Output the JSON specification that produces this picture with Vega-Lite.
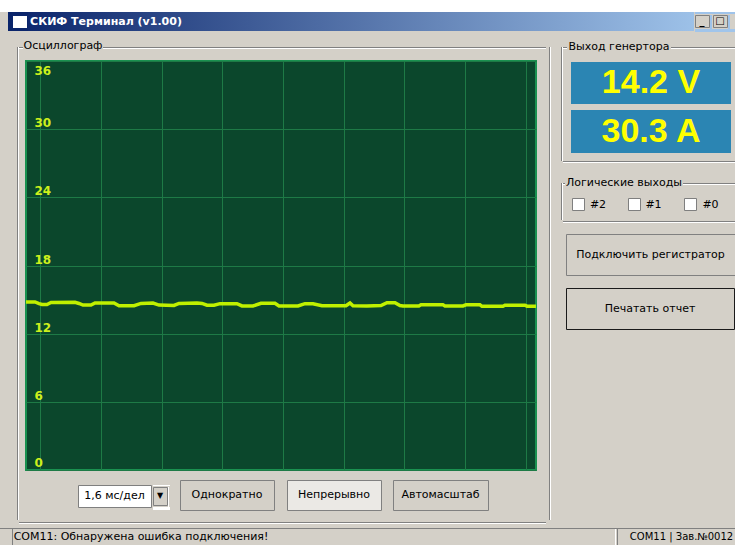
{
"$schema": "https://vega.github.io/schema/vega-lite/v6.json",
"padding": 0,
"background": "#d4d0c8",
"spacing": 0,
"datasets": {"one": [{}]},
"config": {
  "view": {"stroke": null},
  "concat": {"spacing": 0},
  "text": {"font": "DejaVu Sans", "fontSize": 11, "color": "#000000"}
},
"vconcat": [
  {"width":735,"height":12,"data":{"name":"one"},"mark":{"type":"rect","color":"#ffffff"}},
  {"hconcat": [
    {"width":8,"height":19,"data":{"name":"one"},"mark":{"type":"rect","color":"#d4d0c8"}},
    {"width":4,"height":19,"data":{"name":"one"},"mark":{"type":"rect","color":"#0a246a"}},
    {"vconcat":[
      {"width":16,"height":4,"data":{"name":"one"},"mark":{"type":"rect","color":"#0b256b"}},
      {"hconcat":[
        {"width":1,"height":12,"data":{"name":"one"},"mark":{"type":"rect","color":"#0b256b"}},
        {"width":14,"height":12,"data":{"name":"one"},"mark":{"type":"rect","color":"#ffffff"}},
        {"width":1,"height":12,"data":{"name":"one"},"mark":{"type":"rect","color":"#0b256b"}}
      ]},
      {"width":16,"height":3,"data":{"name":"one"},"mark":{"type":"rect","color":"#0b256b"}}
    ]},
    {"width":156,"height":19,"data":{"values":[{"label":"СКИФ Терминал (v1.00)"}]},"layer":[
      {"mark":{"type":"rect","color":{"gradient":"linear","x1":0,"y1":0,"x2":1,"y2":0,"stops":[{"offset":0,"color":"#0e286e"},{"offset":1,"color":"#304c8a"}]}}},
      {"mark":{"type":"text","color":"#ffffff","fontWeight":"bold","fontSize":11},"encoding":{"text":{"field":"label","type":"nominal"}}}
    ]},
    {"width":510,"height":19,"data":{"name":"one"},"mark":{"type":"rect","color":{"gradient":"linear","x1":0,"y1":0,"x2":1,"y2":0,"stops":[{"offset":0,"color":"#304c8a"},{"offset":1,"color":"#9dc1e8"}]}}},
    {"vconcat":[
      {"width":41,"height":2,"data":{"name":"one"},"mark":{"type":"rect","color":"#9fc3ea"}},
      {"hconcat":[
        {"width":14,"height":12,"view":{"fill":"#d4d0c8","stroke":"#808080"},"data":{"values":[{"label":"_"}]},"mark":{"type":"text","fontWeight":"bold","fontSize":10},"encoding":{"text":{"field":"label","type":"nominal"}}},
        {"width":2,"height":14,"data":{"name":"one"},"mark":{"type":"rect","color":"#9fc3ea"}},
        {"width":14,"height":12,"view":{"fill":"#d4d0c8","stroke":"#808080"},"data":{"values":[{"label":"□"}]},"mark":{"type":"text","fontSize":10},"encoding":{"text":{"field":"label","type":"nominal"}}},
        {"width":2,"height":14,"data":{"name":"one"},"mark":{"type":"rect","color":"#9fc3ea"}},
        {"width":5,"height":14,"data":{"name":"one"},"mark":{"type":"rect","color":"#d4d0c8"}}
      ]},
      {"width":41,"height":3,"data":{"name":"one"},"mark":{"type":"rect","color":"#a1c5eb"}}
    ]}
  ]},
  {"hconcat": [
    {"hconcat": [
      {"hconcat":[
        {"width":17,"height":489,"data":{"name":"one"},"mark":{"type":"rect","opacity":0}},
        {"vconcat":[
          {"width":2,"height":15,"data":{"name":"one"},"mark":{"type":"rect","opacity":0}},
          {"hconcat":[
            {"width":1,"height":473,"data":{"name":"one"},"mark":{"type":"rect","color":"#808080"}},
            {"width":1,"height":473,"data":{"name":"one"},"mark":{"type":"rect","color":"#ffffff"}}
          ]},
          {"width":2,"height":1,"data":{"name":"one"},"mark":{"type":"rect","opacity":0}}
        ]}
      ]},
      {"vconcat": [
        {"hconcat":[
          {"vconcat":[
            {"width":4,"height":15,"data":{"name":"one"},"mark":{"type":"rect","opacity":0}},
            {"width":4,"height":1,"data":{"name":"one"},"mark":{"type":"rect","color":"#808080"}},
            {"width":4,"height":1,"data":{"name":"one"},"mark":{"type":"rect","color":"#ffffff"}},
            {"width":4,"height":11,"data":{"name":"one"},"mark":{"type":"rect","opacity":0}}
          ]},
          {"width":80,"height":28,"data":{"values":[{"label":"Осциллограф"}]},"mark":{"type":"text"},"encoding":{"text":{"field":"label","type":"nominal"}}},
          {"vconcat":[
            {"width":443,"height":15,"data":{"name":"one"},"mark":{"type":"rect","opacity":0}},
            {"width":443,"height":1,"data":{"name":"one"},"mark":{"type":"rect","color":"#808080"}},
            {"width":443,"height":1,"data":{"name":"one"},"mark":{"type":"rect","color":"#ffffff"}},
            {"width":443,"height":11,"data":{"name":"one"},"mark":{"type":"rect","opacity":0}}
          ]}
        ]},
        {"hconcat":[
          {"width":6,"height":413,"data":{"name":"one"},"mark":{"type":"rect","opacity":0}},
          {"width":510,"height":409,
           "view":{"fill":"#0b472c","stroke":"#1a9150","strokeWidth":2},
           "data":{"values":[
{"t":-0.369,"v":14.79},{"t":-0.132,"v":14.79},{"t":-0.026,"v":14.65},{"t":0.053,"v":14.57},{"t":0.184,"v":14.57},{"t":0.290,"v":14.74},{"t":0.922,"v":14.76},{"t":1.027,"v":14.66},{"t":1.132,"v":14.52},{"t":1.343,"v":14.52},{"t":1.449,"v":14.70},{"t":1.949,"v":14.70},{"t":2.081,"v":14.46},{"t":2.476,"v":14.46},{"t":2.660,"v":14.66},{"t":2.976,"v":14.70},{"t":3.134,"v":14.52},{"t":3.529,"v":14.48},{"t":3.661,"v":14.66},{"t":4.135,"v":14.70},{"t":4.267,"v":14.66},{"t":4.398,"v":14.50},{"t":4.583,"v":14.50},{"t":4.741,"v":14.64},{"t":5.188,"v":14.64},{"t":5.320,"v":14.44},{"t":5.610,"v":14.44},{"t":5.821,"v":14.67},{"t":6.189,"v":14.67},{"t":6.295,"v":14.44},{"t":6.795,"v":14.44},{"t":6.979,"v":14.64},{"t":7.190,"v":14.64},{"t":7.427,"v":14.46},{"t":8.059,"v":14.46},{"t":8.165,"v":14.70},{"t":8.244,"v":14.46},{"t":8.613,"v":14.44},{"t":8.981,"v":14.48},{"t":9.139,"v":14.73},{"t":9.350,"v":14.73},{"t":9.481,"v":14.48},{"t":9.560,"v":14.44},{"t":9.980,"v":14.44},{"t":10.034,"v":14.54},{"t":10.613,"v":14.54},{"t":10.666,"v":14.44},{"t":11.141,"v":14.44},{"t":11.220,"v":14.54},{"t":11.588,"v":14.54},{"t":11.641,"v":14.41},{"t":12.194,"v":14.41},{"t":12.246,"v":14.50},{"t":12.773,"v":14.50},{"t":12.826,"v":14.42},{"t":13.063,"v":14.42}
           ]},
           "mark":{"type":"line","color":"#c0f000","strokeWidth":3.5,"clip":true},
           "encoding":{
             "x":{"field":"t","type":"quantitative","scale":{"domain":[-0.369,13.064],"nice":false,"zero":false},
                  "axis":{"values":[0,1.6,3.2,4.8,6.4,8,9.6,11.2,12.8],"grid":true,"gridColor":"#1e7a46","gridOpacity":1,"gridWidth":1,"labels":false,"ticks":false,"domain":false,"title":null,"minExtent":0,"maxExtent":0,"offset":0}},
             "y":{"field":"v","type":"quantitative","scale":{"domain":[0,36],"nice":false,"zero":false},
                  "axis":{"values":[0,6,12,18,24,30,36],"grid":true,"gridColor":"#1e7a46","gridOpacity":1,"gridWidth":1,"ticks":false,"domain":false,"title":null,"minExtent":0,"maxExtent":0,"offset":0,
                          "labelColor":"#cdf01c","labelFont":"DejaVu Sans","labelFontWeight":"bold","labelFontSize":12,"labelAlign":"left","labelBaseline":"alphabetic","labelPadding":-8,"labelOverlap":false,"labelFlush":false,
                          "labelOffset":{"condition":[{"test":"datum.value == 36","value":13.5},{"test":"datum.value == 0","value":-4}],"value":-2.5}}}
           }
          },
          {"width":7,"height":413,"data":{"name":"one"},"mark":{"type":"rect","opacity":0}}
        ]},
        {"vconcat":[
          {"width":527,"height":5,"data":{"name":"one"},"mark":{"type":"rect","opacity":0}},
          {"hconcat":[
            {"width":58,"height":32,"data":{"name":"one"},"mark":{"type":"rect","opacity":0}},
            {"vconcat":[
              {"width":92,"height":4,"data":{"name":"one"},"mark":{"type":"rect","opacity":0}},
              {"hconcat":[
                {"width":73,"height":22,"view":{"fill":"#ffffff","stroke":"#7f7f7f"},"data":{"values":[{"label":"1,6 мс/дел"}]},"mark":{"type":"text"},"encoding":{"text":{"field":"label","type":"nominal"}}},
                {"vconcat":[
                  {"width":17,"height":1,"data":{"name":"one"},"mark":{"type":"rect","color":"#ffffff"}},
                  {"hconcat":[
                    {"width":14,"height":18,"view":{"fill":"#d4d0c8","stroke":"#808080"},"data":{"values":[{"label":"▼"}]},"mark":{"type":"text","fontSize":8},"encoding":{"text":{"field":"label","type":"nominal"}}},
                    {"width":1,"height":20,"data":{"name":"one"},"mark":{"type":"rect","color":"#ffffff"}}
                  ]},
                  {"width":17,"height":3,"data":{"name":"one"},"mark":{"type":"rect","color":"#ffffff"}}
                ]}
              ]},
              {"width":92,"height":4,"data":{"name":"one"},"mark":{"type":"rect","opacity":0}}
            ]},
            {"width":9,"height":32,"data":{"name":"one"},"mark":{"type":"rect","opacity":0}},
            {"width":94,"height":30,"view":{"fill":"#d4d0c8","stroke":"#808080"},"data":{"values":[{"label":"Однократно"}]},"mark":{"type":"text"},"encoding":{"text":{"field":"label","type":"nominal"}}},
            {"width":11,"height":32,"data":{"name":"one"},"mark":{"type":"rect","opacity":0}},
            {"width":94,"height":30,"view":{"fill":"#ebe9e5","stroke":"#808080"},"data":{"values":[{"label":"Непрерывно"}]},"mark":{"type":"text"},"encoding":{"text":{"field":"label","type":"nominal"}}},
            {"width":10,"height":32,"data":{"name":"one"},"mark":{"type":"rect","opacity":0}},
            {"width":95,"height":30,"view":{"fill":"#d4d0c8","stroke":"#808080"},"data":{"values":[{"label":"Автомасштаб"}]},"mark":{"type":"text"},"encoding":{"text":{"field":"label","type":"nominal"}}},
            {"width":58,"height":32,"data":{"name":"one"},"mark":{"type":"rect","opacity":0}}
          ]},
          {"width":527,"height":8,"data":{"name":"one"},"mark":{"type":"rect","opacity":0}},
          {"width":527,"height":1,"data":{"name":"one"},"mark":{"type":"rect","color":"#808080"}},
          {"width":527,"height":1,"data":{"name":"one"},"mark":{"type":"rect","color":"#ffffff"}},
          {"width":527,"height":1,"data":{"name":"one"},"mark":{"type":"rect","opacity":0}}
        ]}
      ]},
      {"hconcat":[
        {"width":2,"height":489,"data":{"name":"one"},"mark":{"type":"rect","opacity":0}},
        {"vconcat":[
          {"width":2,"height":15,"data":{"name":"one"},"mark":{"type":"rect","opacity":0}},
          {"hconcat":[
            {"width":1,"height":473,"data":{"name":"one"},"mark":{"type":"rect","color":"#808080"}},
            {"width":1,"height":473,"data":{"name":"one"},"mark":{"type":"rect","color":"#ffffff"}}
          ]},
          {"width":2,"height":1,"data":{"name":"one"},"mark":{"type":"rect","opacity":0}}
        ]},
        {"width":2,"height":489,"data":{"name":"one"},"mark":{"type":"rect","opacity":0}}
      ]}
    ]},
    {"hconcat": [
      {"width":8,"height":493,"data":{"name":"one"},"mark":{"type":"rect","opacity":0}},
      {"vconcat":[
        {"width":2,"height":15,"data":{"name":"one"},"mark":{"type":"rect","opacity":0}},
        {"hconcat":[
          {"width":1,"height":114,"data":{"name":"one"},"mark":{"type":"rect","color":"#808080"}},
          {"width":1,"height":114,"data":{"name":"one"},"mark":{"type":"rect","color":"#ffffff"}}
        ]},
        {"width":2,"height":22,"data":{"name":"one"},"mark":{"type":"rect","opacity":0}},
        {"hconcat":[
          {"width":1,"height":37,"data":{"name":"one"},"mark":{"type":"rect","color":"#808080"}},
          {"width":1,"height":37,"data":{"name":"one"},"mark":{"type":"rect","color":"#ffffff"}}
        ]},
        {"width":2,"height":305,"data":{"name":"one"},"mark":{"type":"rect","opacity":0}}
      ]},
      {"vconcat": [
        {"hconcat":[
          {"vconcat":[
            {"width":4,"height":15,"data":{"name":"one"},"mark":{"type":"rect","opacity":0}},
            {"width":4,"height":1,"data":{"name":"one"},"mark":{"type":"rect","color":"#808080"}},
            {"width":4,"height":1,"data":{"name":"one"},"mark":{"type":"rect","color":"#ffffff"}},
            {"width":4,"height":12,"data":{"name":"one"},"mark":{"type":"rect","opacity":0}}
          ]},
          {"width":104,"height":29,"data":{"values":[{"label":"Выход генертора"}]},"mark":{"type":"text"},"encoding":{"text":{"field":"label","type":"nominal"}}},
          {"vconcat":[
            {"width":65,"height":15,"data":{"name":"one"},"mark":{"type":"rect","opacity":0}},
            {"width":65,"height":1,"data":{"name":"one"},"mark":{"type":"rect","color":"#808080"}},
            {"width":65,"height":1,"data":{"name":"one"},"mark":{"type":"rect","color":"#ffffff"}},
            {"width":65,"height":12,"data":{"name":"one"},"mark":{"type":"rect","opacity":0}}
          ]}
        ]},
        {"width":173,"height":1,"data":{"name":"one"},"mark":{"type":"rect","opacity":0}},
        {"hconcat":[
          {"width":8,"height":42,"data":{"name":"one"},"mark":{"type":"rect","opacity":0}},
          {"width":160,"height":42,"view":{"fill":"#2b85b3","stroke":null},"data":{"values":[{"label":"14.2 V"}]},"mark":{"type":"text","font":"Liberation Sans","fontWeight":"bold","fontSize":34,"color":"#ffff00"},"encoding":{"text":{"field":"label","type":"nominal"}}},
          {"width":5,"height":42,"data":{"name":"one"},"mark":{"type":"rect","opacity":0}}
        ]},
        {"width":173,"height":6,"data":{"name":"one"},"mark":{"type":"rect","opacity":0}},
        {"hconcat":[
          {"width":8,"height":43,"data":{"name":"one"},"mark":{"type":"rect","opacity":0}},
          {"width":160,"height":43,"view":{"fill":"#2b85b3","stroke":null},"data":{"values":[{"label":"30.3 A"}]},"mark":{"type":"text","font":"Liberation Sans","fontWeight":"bold","fontSize":34,"color":"#ffff00"},"encoding":{"text":{"field":"label","type":"nominal"}}},
          {"width":5,"height":43,"data":{"name":"one"},"mark":{"type":"rect","opacity":0}}
        ]},
        {"width":173,"height":8,"data":{"name":"one"},"mark":{"type":"rect","opacity":0}},
        {"width":173,"height":1,"data":{"name":"one"},"mark":{"type":"rect","color":"#808080"}},
        {"width":173,"height":1,"data":{"name":"one"},"mark":{"type":"rect","color":"#ffffff"}},
        {"width":173,"height":10,"data":{"name":"one"},"mark":{"type":"rect","opacity":0}},
        {"hconcat":[
          {"vconcat":[
            {"width":2,"height":10,"data":{"name":"one"},"mark":{"type":"rect","opacity":0}},
            {"width":2,"height":1,"data":{"name":"one"},"mark":{"type":"rect","color":"#808080"}},
            {"width":2,"height":1,"data":{"name":"one"},"mark":{"type":"rect","color":"#ffffff"}},
            {"width":2,"height":8,"data":{"name":"one"},"mark":{"type":"rect","opacity":0}}
          ]},
          {"width":118,"height":20,"data":{"values":[{"label":"Логические выходы"}]},"mark":{"type":"text"},"encoding":{"text":{"field":"label","type":"nominal"}}},
          {"vconcat":[
            {"width":53,"height":10,"data":{"name":"one"},"mark":{"type":"rect","opacity":0}},
            {"width":53,"height":1,"data":{"name":"one"},"mark":{"type":"rect","color":"#808080"}},
            {"width":53,"height":1,"data":{"name":"one"},"mark":{"type":"rect","color":"#ffffff"}},
            {"width":53,"height":8,"data":{"name":"one"},"mark":{"type":"rect","opacity":0}}
          ]}
        ]},
        {"width":173,"height":4,"data":{"name":"one"},"mark":{"type":"rect","opacity":0}},
        {"hconcat":[
          {"width":8,"height":14,"data":{"name":"one"},"mark":{"type":"rect","opacity":0}},
          {"width":12,"height":12,"view":{"fill":"#ffffff","stroke":"#7f7f7f"},"data":{"name":"one"},"mark":{"type":"rect","opacity":0}},
          {"width":26,"height":14,"data":{"values":[{"label":"#2"}]},"mark":{"type":"text"},"encoding":{"text":{"field":"label","type":"nominal"}}},
          {"width":16,"height":14,"data":{"name":"one"},"mark":{"type":"rect","opacity":0}},
          {"width":12,"height":12,"view":{"fill":"#ffffff","stroke":"#7f7f7f"},"data":{"name":"one"},"mark":{"type":"rect","opacity":0}},
          {"width":25,"height":14,"data":{"values":[{"label":"#1"}]},"mark":{"type":"text"},"encoding":{"text":{"field":"label","type":"nominal"}}},
          {"width":17,"height":14,"data":{"name":"one"},"mark":{"type":"rect","opacity":0}},
          {"width":12,"height":12,"view":{"fill":"#ffffff","stroke":"#7f7f7f"},"data":{"name":"one"},"mark":{"type":"rect","opacity":0}},
          {"width":27,"height":14,"data":{"values":[{"label":"#0"}]},"mark":{"type":"text"},"encoding":{"text":{"field":"label","type":"nominal"}}},
          {"width":12,"height":14,"data":{"name":"one"},"mark":{"type":"rect","opacity":0}}
        ]},
        {"width":173,"height":9,"data":{"name":"one"},"mark":{"type":"rect","opacity":0}},
        {"width":173,"height":1,"data":{"name":"one"},"mark":{"type":"rect","color":"#808080"}},
        {"width":173,"height":1,"data":{"name":"one"},"mark":{"type":"rect","color":"#ffffff"}},
        {"width":173,"height":10,"data":{"name":"one"},"mark":{"type":"rect","opacity":0}},
        {"hconcat":[
          {"width":2,"height":43,"data":{"name":"one"},"mark":{"type":"rect","opacity":0}},
          {"width":169,"height":41,"view":{"fill":"#d4d0c8","stroke":"#808080"},"data":{"values":[{"label":"Подключить регистратор"}]},"mark":{"type":"text"},"encoding":{"text":{"field":"label","type":"nominal"}}}
        ]},
        {"width":173,"height":10,"data":{"name":"one"},"mark":{"type":"rect","opacity":0}},
        {"hconcat":[
          {"width":2,"height":43,"data":{"name":"one"},"mark":{"type":"rect","opacity":0}},
          {"width":168,"height":41,"view":{"fill":"#d4d0c8","stroke":"#1a1a1a"},"data":{"values":[{"label":"Печатать отчет"}]},"mark":{"type":"text"},"encoding":{"text":{"field":"label","type":"nominal"}}},
          {"width":1,"height":43,"data":{"name":"one"},"mark":{"type":"rect","opacity":0}}
        ]},
        {"width":173,"height":197,"data":{"name":"one"},"mark":{"type":"rect","opacity":0}}
      ]}
    ]}
  ]},
  {"width":735,"height":1,"data":{"name":"one"},"mark":{"type":"rect","color":"#808080"}},
  {"hconcat": [
    {"width":12,"height":16,"data":{"name":"one"},"mark":{"type":"rect","opacity":0}},
    {"width":1,"height":16,"data":{"name":"one"},"mark":{"type":"rect","color":"#808080"}},
    {"width":246,"height":16,"data":{"values":[{"label":"COM11: Обнаружена ошибка подключения!"}]},"mark":{"type":"text"},"encoding":{"text":{"field":"label","type":"nominal"}}},
    {"width":346,"height":16,"data":{"name":"one"},"mark":{"type":"rect","opacity":0}},
    {"width":1,"height":16,"data":{"name":"one"},"mark":{"type":"rect","color":"#ffffff"}},
    {"width":1,"height":16,"data":{"name":"one"},"mark":{"type":"rect","opacity":0}},
    {"width":1,"height":16,"data":{"name":"one"},"mark":{"type":"rect","color":"#808080"}},
    {"width":127,"height":16,"data":{"values":[{"label":"COM11 | Зав.№0012"}]},"mark":{"type":"text","fontSize":10},"encoding":{"text":{"field":"label","type":"nominal"}}}
  ]}
]
}
